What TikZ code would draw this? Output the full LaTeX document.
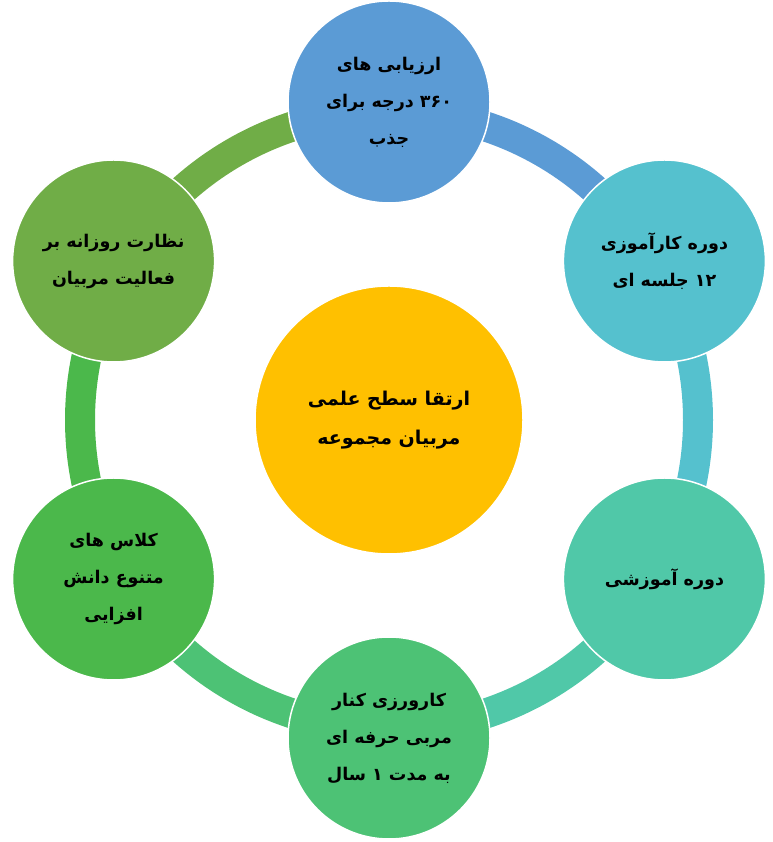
\documentclass[tikz,border=0pt]{standalone}
\usepackage{fontspec}
\newfontfamily\arabicfont[Script=Arabic]{DejaVu Sans}
\TeXXeTstate=1
\definecolor{cBlue}{HTML}{5B9BD5}
\definecolor{cCyan}{HTML}{55C1CE}
\definecolor{cTeal}{HTML}{50C8A8}
\definecolor{cGreenA}{HTML}{4DC275}
\definecolor{cGreenB}{HTML}{4BB84B}
\definecolor{cOlive}{HTML}{70AD47}
\definecolor{cGold}{HTML}{FFC000}
\tikzset{
  band/.style={line width=30pt},
  outer/.style={circle, minimum size=202pt, inner sep=0pt, draw=white, line width=1.5pt, align=center,
    font=\arabicfont\bfseries\fontsize{17.5}{37}\selectfont},
  hub/.style={circle, minimum size=268pt, inner sep=0pt, draw=white, line width=1.5pt, fill=cGold, align=center,
    font=\arabicfont\bfseries\fontsize{19}{39}\selectfont}
}
\begin{document}
\begin{tikzpicture}[x=1pt,y=1pt]
\useasboundingbox (0,0) rectangle (772,842);
\coordinate (C) at (389,422);
% ring segments
\draw[band, cBlue]   ([shift={(90:309)}]C)  arc[start angle=90,  end angle=30,   radius=309];
\draw[band, cCyan]   ([shift={(30:309)}]C)  arc[start angle=30,  end angle=-30,  radius=309];
\draw[band, cTeal]   ([shift={(-30:309)}]C) arc[start angle=-30, end angle=-90,  radius=309];
\draw[band, cGreenA] ([shift={(-90:309)}]C) arc[start angle=-90, end angle=-150, radius=309];
\draw[band, cGreenB] ([shift={(210:309)}]C) arc[start angle=210, end angle=150,  radius=309];
\draw[band, cOlive]  ([shift={(150:309)}]C) arc[start angle=150, end angle=90,   radius=309];
% center
\node[hub] (hub) at (C) {\beginR ارتقا سطح علمی\endR\\ \beginR مربیان مجموعه\endR};
% outer circles
\node[outer, fill=cBlue] (n1) at ([shift={(90:318)}]C)
  {\beginR ارزیابی های\endR\\ \beginR ۳۶۰ درجه برای\endR\\ \beginR جذب\endR};
\node[outer, fill=cCyan] (n2) at ([shift={(30:318)}]C)
  {\beginR دوره کارآموزی\endR\\ \beginR ۱۲ جلسه ای\endR};
\node[outer, fill=cTeal] (n3) at ([shift={(-30:318)}]C)
  {\beginR دوره آموزشی\endR};
\node[outer, fill=cGreenA] (n4) at ([shift={(-90:318)}]C)
  {\beginR کارورزی کنار\endR\\ \beginR مربی حرفه ای\endR\\ \beginR به مدت ۱ سال\endR};
\node[outer, fill=cGreenB] (n5) at ([shift={(210:318)}]C)
  {\beginR کلاس های\endR\\ \beginR متنوع دانش\endR\\ \beginR افزایی\endR};
\node[outer, fill=cOlive] (n6) at ([shift={(150:318)}]C)
  {\beginR نظارت روزانه بر\endR\\ \beginR فعالیت مربیان\endR};
\end{tikzpicture}
\end{document}
